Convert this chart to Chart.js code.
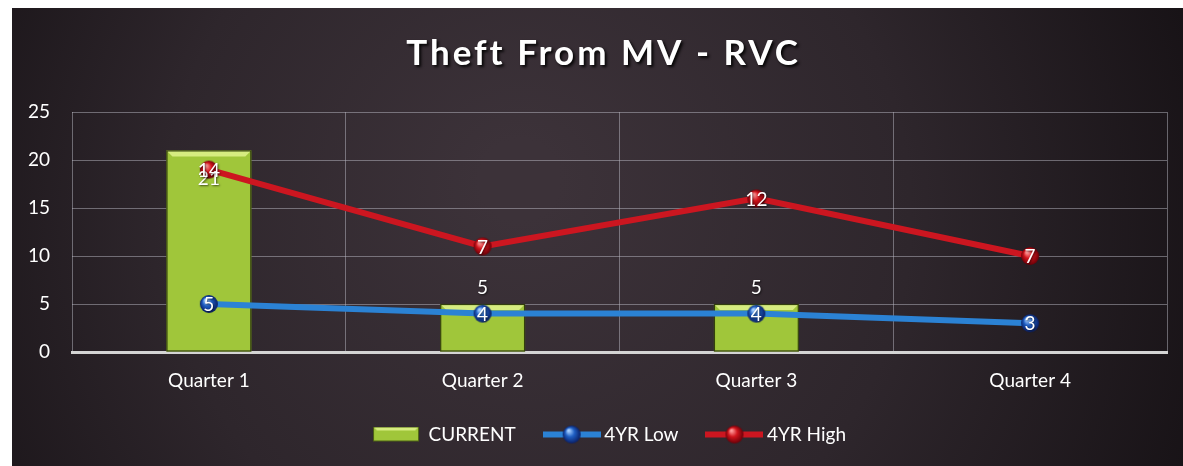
<!DOCTYPE html>
<html><head><meta charset="utf-8">
<script src="https://cdn.jsdelivr.net/npm/chart.js@4/dist/chart.umd.min.js"></script>
<style>html,body{margin:0;padding:0;background:#fff;overflow:hidden;}canvas{display:block;}</style>
</head><body>
<canvas id="c" width="1183" height="466"></canvas>
<script>
// ---- data ----
const chartTitle = 'Theft From MV - RVC';
const categories = ['Quarter 1', 'Quarter 2', 'Quarter 3', 'Quarter 4'];
const currentValues = [21, 5, 5, null];
const low4yr = [5, 4, 4, 3];
const high4yr = [14, 7, 12, 7];   // stacked on top of 4YR Low
const yTicks = [0, 5, 10, 15, 20, 25];
const seriesNames = ['CURRENT', '4YR Low', '4YR High'];

const FONT = 'Lato, "Open Sans", sans-serif';

function sphere(mid, dark, light, r) {
  const s = r * 2 + 2;
  const c = document.createElement('canvas'); c.width = s; c.height = s;
  const g = c.getContext('2d'); const cx = s / 2, cy = s / 2;
  const grad = g.createRadialGradient(cx - r * 0.35, cy - r * 0.45, r * 0.1, cx, cy, r);
  grad.addColorStop(0, light); grad.addColorStop(0.45, mid); grad.addColorStop(1, dark);
  g.fillStyle = grad; g.beginPath(); g.arc(cx, cy, r, 0, Math.PI * 2); g.fill();
  return c;
}
const redSphere = sphere('#d2141c', '#6a0008', '#ff9a9a', 9);
const blueSphere = sphere('#1f5fc4', '#0a1f66', '#a8d0ff', 9);

function lineSwatch(color, sph) {
  const c = document.createElement('canvas'); c.width = 58; c.height = 22;
  const g = c.getContext('2d');
  g.strokeStyle = color; g.lineWidth = 6; g.beginPath(); g.moveTo(0, 11); g.lineTo(58, 11); g.stroke();
  g.drawImage(sph, 29 - sph.width / 2, 11 - sph.height / 2);
  return c;
}
function barSwatch() {
  const c = document.createElement('canvas'); c.width = 58; c.height = 16;
  const g = c.getContext('2d');
  const x0 = 6, w = 46, h = 15;
  g.fillStyle = '#a0c63a'; g.fillRect(x0, 0, w, h);
  g.fillStyle = '#d6ec80';
  g.beginPath(); g.moveTo(x0, 0); g.lineTo(x0 + w, 0); g.lineTo(x0 + w - 4, 4); g.lineTo(x0 + 4, 4); g.closePath(); g.fill();
  g.strokeStyle = '#4f6414'; g.lineWidth = 1; g.strokeRect(x0 + 0.5, 0.5, w - 1, h - 1);
  return c;
}
const swatches = [barSwatch(), lineSwatch('#2b82d4', blueSphere), lineSwatch('#cc1620', redSphere)];

const bgPlugin = {
  id: 'bg',
  beforeDraw(chart) {
    const ctx = chart.ctx;
    ctx.save();
    ctx.fillStyle = '#ffffff'; ctx.fillRect(0, 0, chart.width, chart.height);
    const g = ctx.createRadialGradient(520, 180, 40, 560, 260, 780);
    g.addColorStop(0, '#3c3239');
    g.addColorStop(0.45, '#2e262c');
    g.addColorStop(1, '#100c0f');
    ctx.fillStyle = g; ctx.fillRect(12, 8, chart.width - 12, chart.height - 8);
    ctx.restore();
  }
};

const bevelPlugin = {
  id: 'bevel',
  afterDatasetDraw(chart, args) {
    if (args.meta.type !== 'bar') return;
    const ctx = chart.ctx;
    ctx.save();
    args.meta.data.forEach((el, j) => {
      if (currentValues[j] == null) return;
      const w = el.width, l = el.x - w / 2, r = el.x + w / 2, t = el.y, b = el.base;
      ctx.fillStyle = '#d6ec80';
      ctx.beginPath(); ctx.moveTo(l, t); ctx.lineTo(r, t); ctx.lineTo(r - 6, t + 6); ctx.lineTo(l + 6, t + 6); ctx.closePath(); ctx.fill();
      ctx.strokeStyle = '#33400c'; ctx.lineWidth = 1.2;
      ctx.strokeRect(l + 0.5, t + 0.5, w - 1, b - t - 1);
    });
    ctx.restore();
  }
};

const labelPlugin = {
  id: 'valueLabels',
  afterDatasetsDraw(chart) {
    const ctx = chart.ctx;
    ctx.save();
    ctx.font = '19px ' + FONT; ctx.fillStyle = '#ffffff';
    ctx.textAlign = 'center'; ctx.textBaseline = 'middle';
    ctx.shadowColor = 'rgba(0,0,0,0.6)'; ctx.shadowBlur = 2; ctx.shadowOffsetX = 1; ctx.shadowOffsetY = 1;
    chart.data.datasets.forEach((ds, i) => {
      const meta = chart.getDatasetMeta(i);
      meta.data.forEach((el, j) => {
        const v = ds.data[j];
        if (v == null) return;
        let y = el.y + 1;
        if (ds.type === 'bar') y = v >= 10 ? el.y + 28 : el.y - 16;
        ctx.fillText(String(v), el.x, y);
      });
    });
    ctx.restore();
  }
};

const ctx = document.getElementById('c').getContext('2d');
const chart = new Chart(ctx, {
  data: {
    labels: categories,
    datasets: [
      { type: 'bar', label: seriesNames[0], data: currentValues, stack: 'bars', order: 3,
        backgroundColor: '#a0c63a', borderWidth: 0, barPercentage: 0.31, categoryPercentage: 1 },
      { type: 'line', label: seriesNames[1], data: low4yr, stack: 'lines', order: 1,
        borderColor: '#2b82d4', borderWidth: 6, tension: 0, pointStyle: blueSphere, pointRadius: 9 },
      { type: 'line', label: seriesNames[2], data: high4yr, stack: 'lines', order: 2,
        borderColor: '#cc1620', borderWidth: 6, tension: 0, pointStyle: redSphere, pointRadius: 9 }
    ]
  },
  options: {
    responsive: false,
    animation: false,
    layout: { padding: { left: 12, right: 16, top: 0, bottom: 12 } },
    scales: {
      x: {
        afterFit: (s) => { s.height = 40; },
        grid: { offset: true, color: 'rgba(200,200,210,0.45)', lineWidth: 1, drawTicks: false },
        border: { color: '#d4d4d4', width: 3 },
        ticks: { color: '#ffffff', font: { family: FONT, size: 19 }, padding: 17 }
      },
      y: {
        stacked: true, min: 0, max: 25,
        afterBuildTicks: (s) => { s.ticks = yTicks.map(v => ({ value: v })); },
        afterFit: (s) => { s.width = 60; },
        grid: { color: 'rgba(200,200,210,0.45)', lineWidth: 1, drawTicks: false },
        border: { display: false },
        ticks: { color: '#ffffff', font: { family: FONT, size: 19 }, padding: 22 }
      }
    },
    plugins: {
      tooltip: { enabled: false },
      title: {
        display: true, text: chartTitle, color: '#ffffff',
        font: { family: FONT, size: 35, weight: 'bold' },
        padding: { top: 33, bottom: 37 }
      },
      legend: {
        position: 'bottom',
        labels: {
          color: '#ffffff', font: { family: FONT, size: 19 },
          usePointStyle: true, pointStyleWidth: 46, padding: 33,
          generateLabels: (ch) => ch.data.datasets.map((ds, i) => ({
            text: ds.label, pointStyle: swatches[i], datasetIndex: i, hidden: false,
            fillStyle: 'transparent', strokeStyle: 'transparent', lineWidth: 0, fontColor: '#ffffff'
          }))
        }
      }
    }
  },
  plugins: [bgPlugin, bevelPlugin, labelPlugin]
});
// title: text shadow, letter spacing, and centring over the reference position
const origTitleDraw = chart.titleBlock.draw;
chart.titleBlock.draw = function () {
  const c = this.ctx; c.save();
  c.translate(14, 0);
  c.letterSpacing = '3px';
  c.shadowColor = 'rgba(0,0,0,0.9)'; c.shadowBlur = 3; c.shadowOffsetX = 2; c.shadowOffsetY = 2;
  origTitleDraw.apply(this, arguments); c.restore();
};
const origLegendDraw = chart.legend.draw;
chart.legend.draw = function () {
  const c = this.ctx; c.save();
  c.translate(20, 0);
  origLegendDraw.apply(this, arguments); c.restore();
};
chart.draw();
</script>
</body></html>
